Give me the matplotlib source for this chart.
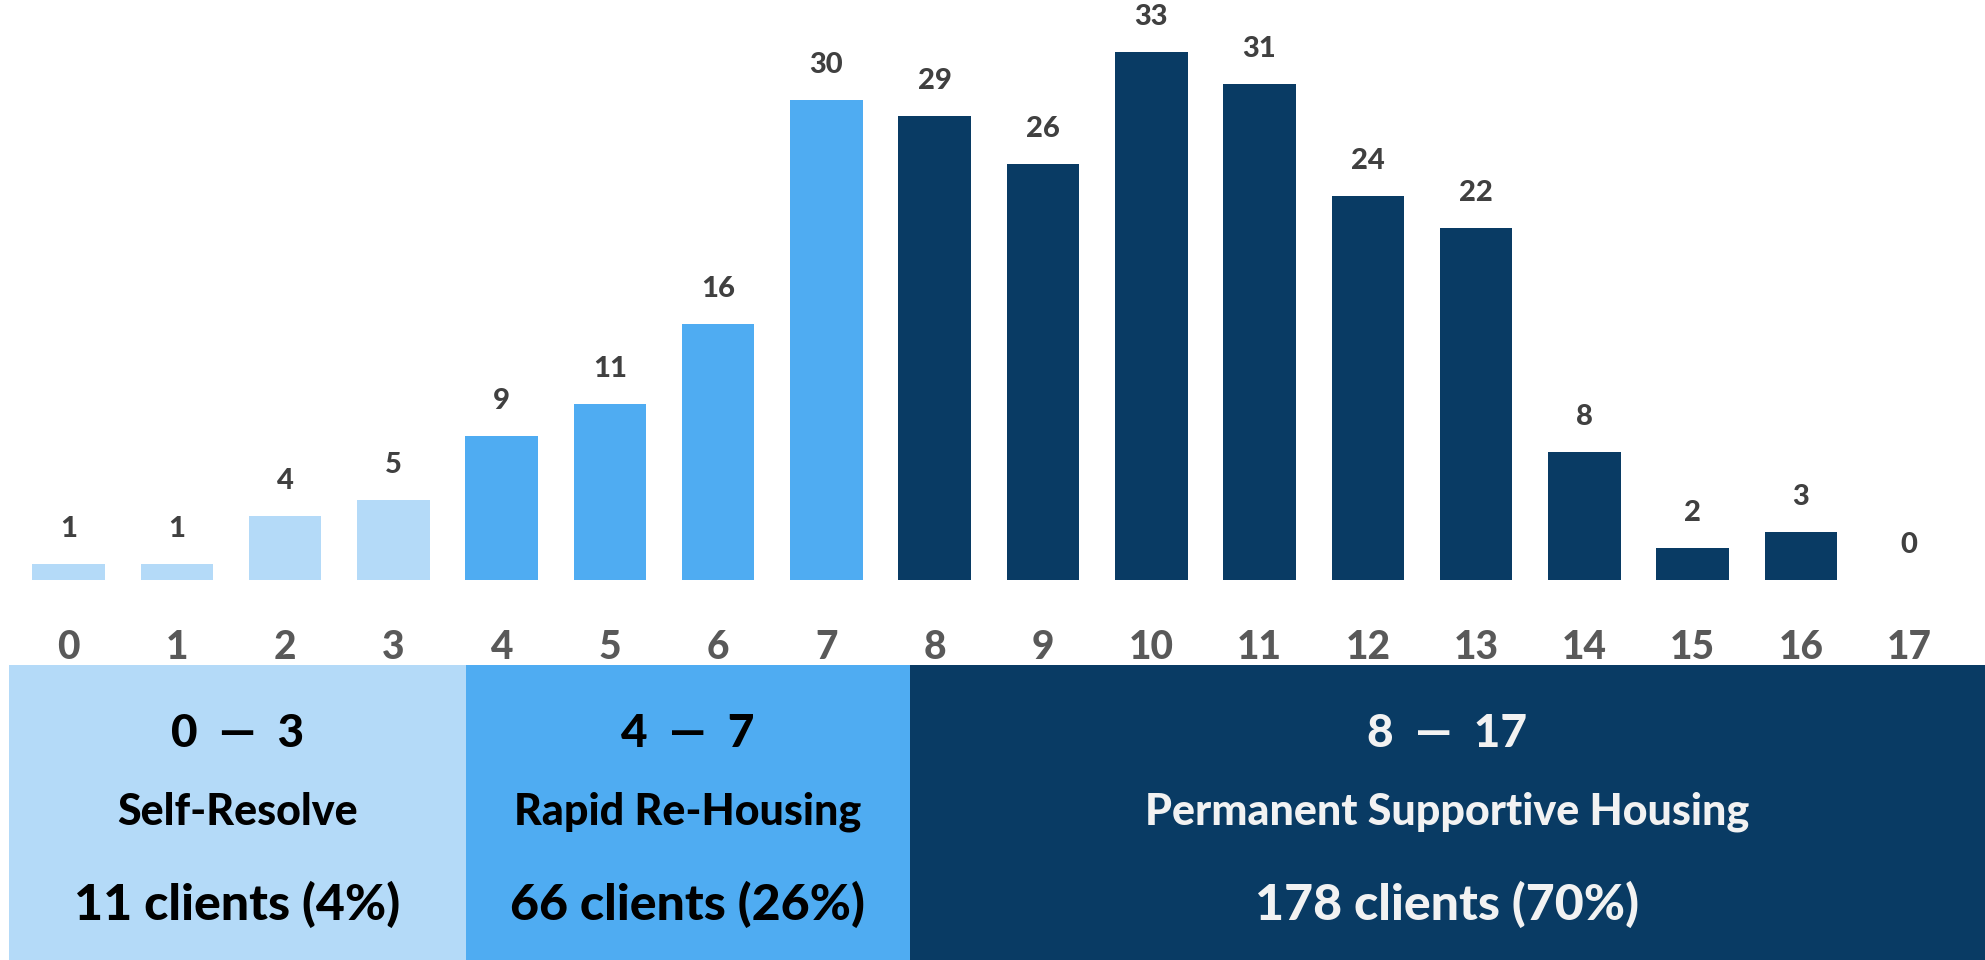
import matplotlib
matplotlib.use('Agg')
from matplotlib import pyplot as plt
from matplotlib import patches

plt.rcParams['font.family'] = ['Lato', 'DejaVu Sans']

scores = list(range(18))
counts = [1, 1, 4, 5, 9, 11, 16, 30, 29, 26, 33, 31, 24, 22, 8, 2, 3, 0]
group_ranges = ['0  \u2014  3', '4  \u2014  7', '8  \u2014  17']
group_names = ['Self-Resolve', 'Rapid Re-Housing', 'Permanent Supportive Housing']
group_clients = ['11 clients (4%)', '66 clients (26%)', '178 clients (70%)']

light = '#B4DAF8'
mid = '#4FACF2'
dark = '#093B64'
bar_colors = [light if s <= 3 else (mid if s <= 7 else dark) for s in scores]

fig = plt.figure(figsize=(19.85, 9.6), dpi=100)
ax = fig.add_axes([0, 0, 1, 1])
ax.set_xlim(-0.633, 17.70)
ax.set_ylim(-23.75, 36.25)
ax.axis('off')

ax.bar(scores, counts, width=0.67, color=bar_colors)
for s, c in zip(scores, counts):
	ax.text(s, c + 2.2, str(c), ha='center', va='center', fontsize=21, fontweight='black', color='#404040')
	ax.text(s, -4.2, str(s), ha='center', va='center', fontsize=28, fontweight='black', color='#595959')

# category boxes under the axis
box_edges = [(-0.55, 3.67), (3.67, 7.77), (7.77, 17.70)]
box_colors = [light, mid, dark]
text_colors = ['black', 'black', '#F2F2F2']
for (x0, x1), bc, tc, rng, name, cl in zip(box_edges, box_colors, text_colors, group_ranges, group_names, group_clients):
	ax.add_patch(patches.Rectangle((x0, -23.75), x1 - x0, 23.75 - 5.31, facecolor=bc, edgecolor='none'))
	xc = (x0 + x1) / 2
	ax.text(xc, -9.6, rng, ha='center', va='center', fontsize=33, fontweight='black', color=tc)
	ax.text(xc, -14.5, name, ha='center', va='center', fontsize=31, fontweight='black', color=tc)
	ax.text(xc, -20.3, cl, ha='center', va='center', fontsize=36, fontweight='black', color=tc)

fig.savefig('out.png', dpi=100)
